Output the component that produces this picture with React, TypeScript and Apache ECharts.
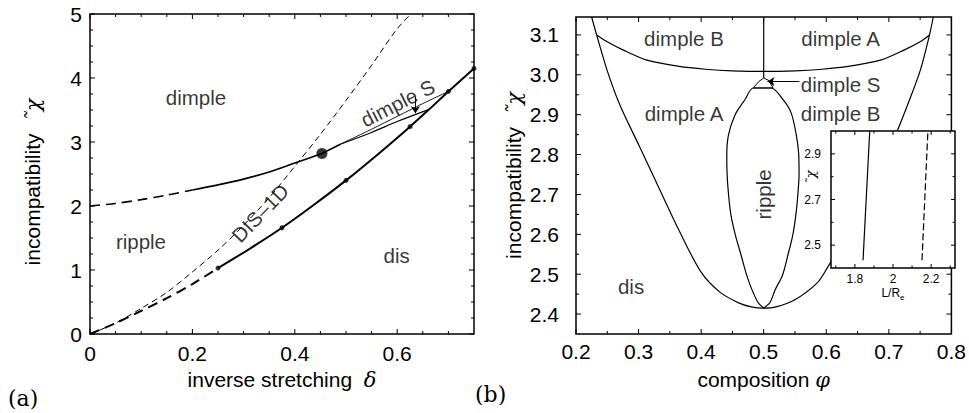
import React, { useEffect, useRef } from "react";
import * as echarts from "echarts";

const FONT = "'Liberation Sans', Arial, Helvetica, sans-serif";
const SERIF = "'DejaVu Serif', 'Liberation Serif', serif";
const TICK_COLOR = "#000";

// ---------------- Panel (a) data ----------------
const aXMajor = [0, 0.2, 0.4, 0.6];
const aXMinor = [0.05, 0.1, 0.15, 0.25, 0.3, 0.35, 0.45, 0.5, 0.55, 0.65, 0.7];
const aYMajor = [0, 1, 2, 3, 4, 5];
const aYMinor = [0.25, 0.5, 0.75, 1.25, 1.5, 1.75, 2.25, 2.5, 2.75, 3.25, 3.5, 3.75, 4.25, 4.5, 4.75];

const aUpperDashed = [[0, 2.0], [0.05, 2.04], [0.1, 2.1], [0.15, 2.17], [0.2, 2.25]];
const aUpperSolid = [[0.2, 2.25], [0.25, 2.33], [0.3, 2.42], [0.35, 2.53], [0.4, 2.67], [0.453, 2.82]];
const aTriplePoint = [[0.453, 2.82]];
const aSharedBranch = [[0.453, 2.82], [0.49, 2.97]];
const aUpperBranch = [[0.49, 2.97], [0.55, 3.2], [0.6, 3.4], [0.65, 3.6], [0.7, 3.79]];
const aLowerBranch = [[0.49, 2.97], [0.55, 3.15], [0.6, 3.32], [0.6625, 3.51]];
const aDis1D = [
  [0, 0], [0.05, 0.17], [0.1, 0.4], [0.15, 0.65], [0.2, 0.97], [0.25, 1.31], [0.3, 1.7],
  [0.35, 2.13], [0.4, 2.62], [0.45, 3.12], [0.5, 3.65], [0.55, 4.2], [0.6, 4.77], [0.627, 5.0],
];
const aDisDashed = [[0, 0], [0.05, 0.17], [0.1, 0.36], [0.15, 0.56], [0.2, 0.78], [0.25, 1.03]];
const aDisSolid = [
  [0.25, 1.03], [0.3125, 1.335], [0.375, 1.66], [0.4375, 2.02], [0.5, 2.4],
  [0.5625, 2.81], [0.625, 3.24], [0.6625, 3.51], [0.7, 3.79], [0.75, 4.15],
];
const aDisMarkers = [[0.25, 1.03], [0.375, 1.66], [0.5, 2.4], [0.625, 3.24], [0.7, 3.79], [0.75, 4.15]];

const aLabelText = ["dimple", "dimple S", "ripple", "DIS\u20131D", "dis"];
const aLabelPos = [[0.207, 3.69], [0.601, 3.61], [0.0995, 1.44], [0.332, 1.89], [0.599, 1.22]];
const aLabelRot = [0, 27, 0, 46, 0];
const aArrow = [[0.6355, 3.71], [0.6355, 3.45]];

// ---------------- Panel (b) data ----------------
const bXMajor = [0.2, 0.3, 0.4, 0.5, 0.6, 0.7, 0.8];
const bXMinor = [0.25, 0.35, 0.45, 0.55, 0.65, 0.75];
const bYMajor = [2.4, 2.5, 2.6, 2.7, 2.8, 2.9, 3.0, 3.1];
const bYMinor = [2.45, 2.55, 2.65, 2.75, 2.85, 2.95, 3.05];

const bOuter = [
  [0.225, 3.145], [0.233, 3.1], [0.25, 3.01], [0.27, 2.925], [0.3, 2.825], [0.333, 2.715],
  [0.3646, 2.61], [0.4, 2.505], [0.43, 2.455], [0.46, 2.428], [0.48, 2.418], [0.5, 2.415],
  [0.52, 2.418], [0.549, 2.435], [0.586, 2.479], [0.602, 2.517], [0.635, 2.605], [0.667, 2.71],
  [0.695, 2.8], [0.713, 2.858], [0.73, 2.925], [0.75, 3.01], [0.765, 3.1], [0.771, 3.145],
];
const bUpper = [
  [0.233, 3.1], [0.25, 3.083], [0.275, 3.0625], [0.312, 3.0375], [0.365, 3.021], [0.407, 3.014],
  [0.45, 3.01], [0.5, 3.0085], [0.55, 3.01], [0.593, 3.014], [0.635, 3.021], [0.688, 3.0375],
  [0.725, 3.0625], [0.75, 3.083], [0.765, 3.1],
];
const bVertical = [[0.5, 3.145], [0.5, 2.992]];
const bDimpleS = [[0.4834, 2.967], [0.492, 2.983], [0.5, 2.992], [0.508, 2.986], [0.515, 2.967], [0.4834, 2.967]];
const bRipple = [
  [0.5, 2.415], [0.491, 2.429], [0.4815, 2.46], [0.4728, 2.4975], [0.4635, 2.55], [0.4544, 2.6],
  [0.4475, 2.65], [0.4438, 2.7], [0.4415, 2.75], [0.441, 2.8], [0.4438, 2.85], [0.4544, 2.9],
  [0.47, 2.9375], [0.4834, 2.967], [0.512, 2.967], [0.531, 2.9375], [0.544, 2.904], [0.552, 2.85],
  [0.556, 2.8], [0.5565, 2.75], [0.5546, 2.7], [0.5515, 2.65], [0.5467, 2.6], [0.539, 2.55],
  [0.53, 2.4975], [0.518, 2.46], [0.51, 2.429], [0.5, 2.415],
];
const bLabelText = ["dimple B", "dimple A", "dimple A", "dimple B", "dimple S", "ripple", "dis"];
const bLabelPos = [
  [0.3726, 3.092], [0.623, 3.092], [0.3726, 2.904], [0.623, 2.904], [0.623, 2.975], [0.5003, 2.7], [0.288, 2.469],
];
const bLabelRot = [0, 0, 0, 0, 0, 90, 0];
const bArrow = [[0.557, 2.983], [0.506, 2.983]];

// ---------------- Inset data ----------------
const iXMajor = [1.8, 2.0, 2.2];
const iXMinor = [1.7, 1.9, 2.1, 2.3];
const iYMajor = [2.5, 2.7, 2.9];
const iYMinor = [2.6, 2.8];
const iSolid = [[1.843, 2.434], [1.878, 3.0]];
const iDashed = [[2.152, 2.434], [2.183, 3.0]];

function axis(dim: string, g: number, min: number, max: number, labels: number[], o: any) {
  return {
    type: "value", gridIndex: g, position: dim === "x" ? "bottom" : "left", min, max, z: o.z || 0,
    axisLine: { show: false, onZero: false },
    axisTick: { show: false },
    splitLine: { show: false },
    axisLabel: { show: true, customValues: labels, formatter: o.fmt, margin: o.margin, color: "#000", fontSize: o.fontSize, fontFamily: FONT },
    name: o.name, nameLocation: "middle", nameGap: o.nameGap, nameTextStyle: o.nameTextStyle,
    nameMoveOverlap: false,
  };
}

function line(data: number[][], g: number, w: number, dash: any = "solid", z = 2, smooth: any = 0) {
  return {
    type: "line", xAxisIndex: g, yAxisIndex: g, data, symbol: "none", showSymbol: false,
    smooth, silent: true, z, lineStyle: { color: "#000", width: w, type: dash },
  };
}

function ticks(g: number, xr: number[], yr: number[], xVals: number[], yVals: number[], len: number, z: number) {
  const data = [...xVals.map((v) => [v, yr[0], 0]), ...yVals.map((v) => [xr[0], v, 1])];
  const seg = (x1: number, y1: number, x2: number, y2: number) => ({
    type: "line", shape: { x1, y1, x2, y2 }, style: { stroke: TICK_COLOR, lineWidth: 1 },
  });
  return {
    type: "custom", xAxisIndex: g, yAxisIndex: g, silent: true, z, clip: false, data,
    renderItem: (params: any, api: any) => {
      if (api.value(2) === 0) {
        const x = api.value(0);
        const b = api.coord([x, yr[0]]);
        const t = api.coord([x, yr[1]]);
        return { type: "group", children: [seg(b[0], b[1], b[0], b[1] - len), seg(t[0], t[1], t[0], t[1] + len)] };
      }
      const y = api.value(1);
      const l = api.coord([xr[0], y]);
      const r = api.coord([xr[1], y]);
      return { type: "group", children: [seg(l[0], l[1], l[0] + len, l[1]), seg(r[0], r[1], r[0] - len, r[1])] };
    },
  };
}

function labels(g: number, text: string[], pos: number[][], rot: number[], arrow: number[][]) {
  return {
    type: "scatter", xAxisIndex: g, yAxisIndex: g, symbolSize: 1, silent: true,
    itemStyle: { color: "rgba(0,0,0,0)" },
    data: text.map((t, i) => ({ value: pos[i], label: { formatter: t, rotate: rot[i] } })),
    label: { show: true, position: "inside", color: "#000", fontSize: 20.5, fontFamily: FONT },
    markLine: {
      silent: true, symbol: ["none", "arrow"], symbolSize: 7,
      lineStyle: { color: "#000", width: 1, type: "solid" }, label: { show: false },
      data: [[{ coord: arrow[0] }, { coord: arrow[1] }]],
    },
  };
}

const chiName = "incompatibility  {g|\u02DC\u03C7}";
const nameStyle = {
  color: "#000", fontSize: 21, fontFamily: FONT,
  rich: { g: { fontSize: 21, fontFamily: SERIF, fontStyle: "italic", color: "#000" } },
};

export default function App() {
  const ref = useRef<HTMLDivElement>(null);
  useEffect(() => {
    if (!ref.current) return;
    const chart = echarts.init(ref.current, undefined, { renderer: "svg" });
    const fmt1 = (v: number) => v.toFixed(1);
    const fmtPlain = (v: number) => String(v);
    const option: any = {
      animation: false,
      backgroundColor: "#fff",
      grid: [
        { left: 90, top: 14, width: 384, height: 320, show: true, borderColor: "#000", borderWidth: 1.5, backgroundColor: "rgba(0,0,0,0)" },
        { left: 576, top: 17, width: 379, height: 317, show: true, borderColor: "#000", borderWidth: 1.5, backgroundColor: "rgba(0,0,0,0)" },
        { left: 831, top: 131, width: 124, height: 137, show: true, backgroundColor: "#fff", borderColor: "#000", borderWidth: 1.5, z: 5 },
      ],
      xAxis: [
        axis("x", 0, 0, 0.75, aXMajor, {
          fmt: fmtPlain, margin: 9, fontSize: 21, name: "inverse stretching  {g|\u03B4}", nameGap: 35, nameTextStyle: nameStyle,
        }),
        axis("x", 1, 0.2, 0.8, bXMajor, {
          fmt: fmt1, margin: 7, fontSize: 21, name: "composition {g|\u03C6}", nameGap: 35, nameTextStyle: nameStyle,
        }),
        axis("x", 2, 1.675, 2.325, iXMajor, {
          fmt: fmtPlain, margin: 5, fontSize: 12, z: 6, name: "L/R{s|e}", nameGap: 17,
          nameTextStyle: { color: "#000", fontSize: 12, fontFamily: FONT, rich: { s: { fontSize: 8, fontFamily: FONT, color: "#000", padding: [8, 0, 0, 0] } } },
        }),
      ],
      yAxis: [
        axis("y", 0, 0, 5, aYMajor, {
          fmt: fmtPlain, margin: 8, fontSize: 21, name: chiName, nameGap: 47, nameTextStyle: { ...nameStyle, padding: [0, 16, 0, 0] },
        }),
        axis("y", 1, 2.35, 3.145, bYMajor, {
          fmt: fmt1, margin: 17, fontSize: 21, name: chiName, nameGap: 52, nameTextStyle: nameStyle,
        }),
        axis("y", 2, 2.4, 3.0, iYMajor, {
          fmt: fmtPlain, margin: 10, fontSize: 12, z: 6, name: "{g|\u02DC\u03C7}", nameGap: 14,
          nameTextStyle: { color: "#000", fontSize: 13, fontFamily: FONT, padding: [0, 0, 0, 44], rich: { g: { fontSize: 13, fontFamily: SERIF, fontStyle: "italic", color: "#000" } } },
        }),
      ],
      graphic: [
        { type: "text", x: 8, y: 398, style: { text: "(a)", fontSize: 22, fontFamily: SERIF, fill: "#000", verticalAlign: "middle" } },
        { type: "text", x: 475, y: 394, style: { text: "(b)", fontSize: 22, fontFamily: SERIF, fill: "#000", verticalAlign: "middle" } },
      ],
      series: [
        ticks(0, [0, 0.75], [0, 5], aXMajor, aYMajor, 5, 3),
        ticks(0, [0, 0.75], [0, 5], aXMinor, aYMinor, 3, 3),
        line(aDis1D, 0, 1, [6, 4], 2, 0.3),
        line(aDisDashed, 0, 2, [10, 6], 2, 0.3),
        line(aDisSolid, 0, 2, "solid", 2, 0.3),
        line(aUpperDashed, 0, 1.6, [10, 6], 2, 0.3),
        line(aUpperSolid, 0, 1.6, "solid", 2, 0.3),
        line(aSharedBranch, 0, 1.6),
        line(aUpperBranch, 0, 0.9, "solid", 2, 0.3),
        line(aLowerBranch, 0, 1.1, "solid", 2, 0.3),
        {
          type: "scatter", xAxisIndex: 0, yAxisIndex: 0, data: aDisMarkers, symbol: "circle", symbolSize: 5,
          itemStyle: { color: "#000" }, silent: true, z: 3,
        },
        {
          type: "scatter", xAxisIndex: 0, yAxisIndex: 0, data: aTriplePoint, symbol: "circle", symbolSize: 11,
          itemStyle: { color: "#000" }, silent: true, z: 3,
        },
        labels(0, aLabelText, aLabelPos, aLabelRot, aArrow),
        ticks(1, [0.2, 0.8], [2.35, 3.145], bXMajor, bYMajor, 5, 3),
        ticks(1, [0.2, 0.8], [2.35, 3.145], bXMinor, bYMinor, 3, 3),
        line(bOuter, 1, 1.2, "solid", 2, 0.3),
        line(bUpper, 1, 1.2, "solid", 2, 0.3),
        line(bVertical, 1, 1.2),
        line(bDimpleS, 1, 1),
        line(bRipple, 1, 1.2, "solid", 2, 0.3),
        labels(1, bLabelText, bLabelPos, bLabelRot, bArrow),
        ticks(2, [1.675, 2.325], [2.4, 3.0], iXMajor, iYMajor, 4, 7),
        ticks(2, [1.675, 2.325], [2.4, 3.0], iXMinor, iYMinor, 2.5, 7),
        line(iSolid, 2, 1.2, "solid", 7),
        line(iDashed, 2, 1.2, [7, 3], 7),
      ],
    };
    chart.setOption(option);
    return () => chart.dispose();
  }, []);
  return <div ref={ref} style={{ position: "absolute", left: 0, top: 0, width: 969, height: 413 }} />;
}
